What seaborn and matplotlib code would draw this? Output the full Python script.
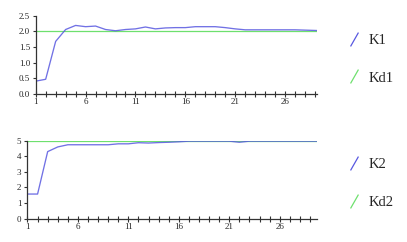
import numpy as np
import pandas as pd
import matplotlib
matplotlib.use("Agg")
import matplotlib.pyplot as plt
import seaborn as sns
from matplotlib.lines import Line2D

steps = list(range(1, 31))
k1 = [0.41, 0.47, 1.68, 2.06, 2.19, 2.15, 2.17, 2.06, 2.02, 2.06, 2.08, 2.14, 2.08, 2.11, 2.12,
      2.12, 2.15, 2.15, 2.15, 2.12, 2.08, 2.05, 2.05, 2.05, 2.05, 2.05, 2.05, 2.04, 2.03, 2.02]
kd1 = [2.0] * len(steps)
k2 = [1.58, 1.58, 4.3, 4.6, 4.74, 4.74, 4.74, 4.74, 4.74, 4.8, 4.8, 4.87, 4.85, 4.88, 4.9,
      4.93, 4.97, 4.97, 4.97, 4.97, 4.97, 4.9, 4.97, 4.97, 4.97, 4.97, 4.97, 4.97, 4.97, 4.97]
kd2 = [5.0] * len(steps)
x_labels = [1, 6, 11, 16, 21, 26]

sns.set_theme(style="white")
plt.rcParams['font.family'] = ['Liberation Serif', 'DejaVu Serif']

BLUE = '#5858e0'
GREEN = '#6ee06e'

fig = plt.figure(figsize=(4.07, 2.42), dpi=100)
ax1 = fig.add_axes([0.0877, 0.6116, 0.779 - 0.0877, 0.935 - 0.6116])
ax2 = fig.add_axes([0.0663, 0.0963, 0.779 - 0.0663, 0.4186 - 0.0963])

df1 = pd.DataFrame({'x': steps, 'K1': k1, 'Kd1': kd1})
df2 = pd.DataFrame({'x': steps, 'K2': k2, 'Kd2': kd2})

sns.lineplot(data=df1, x='x', y='Kd1', ax=ax1, color=GREEN, lw=0.9)
sns.lineplot(data=df1, x='x', y='K1', ax=ax1, color=BLUE, lw=0.95, alpha=0.85)
sns.lineplot(data=df2, x='x', y='Kd2', ax=ax2, color=GREEN, lw=0.9)
sns.lineplot(data=df2, x='x', y='K2', ax=ax2, color=BLUE, lw=0.95, alpha=0.85)

ax1.set_ylim(0, 2.5)
ax1.set_yticks(np.arange(0, 2.51, 0.5))
ax1.set_yticklabels([f"{v:.1f}" for v in np.arange(0, 2.51, 0.5)])
ax1.set_xlim(1, 29.2)
ax2.set_ylim(0, 5)
ax2.set_yticks(range(0, 6))
ax2.set_xlim(0.95, 29.7)

for ax in (ax1, ax2):
    ax.set_xlabel('')
    ax.set_ylabel('')
    ax.set_xticks(x_labels)
    ax.set_xticks([s for s in steps if s <= 29], minor=True)
    for s in ('top', 'right'):
        ax.spines[s].set_visible(False)
    for s in ('left', 'bottom'):
        ax.spines[s].set_color('#333333')
        ax.spines[s].set_linewidth(0.9)
    ax.tick_params(axis='x', which='both', direction='inout', length=4, width=0.8,
                   color='#333333', labelsize=6.5, pad=1, bottom=True)
    ax.tick_params(axis='y', which='both', direction='out', length=2.5, width=0.8,
                   color='#333333', labelsize=6.5, pad=1.5, left=True)
    ax.patch.set_alpha(0)

slash = [(-0.57, -1), (0.57, 1)]
for ax, names in ((ax1, ('K1', 'Kd1')), (ax2, ('K2', 'Kd2'))):
    handles = [Line2D([], [], color=BLUE, marker=slash, linestyle='none', markersize=10,
                      markeredgewidth=0.9),
               Line2D([], [], color=GREEN, marker=slash, linestyle='none', markersize=10,
                      markeredgewidth=0.9)]
    ax.legend(handles, names, loc='center left',
              bbox_to_anchor=(0.855, 0.755 if ax is ax1 else 0.242),
              bbox_transform=fig.transFigure, frameon=False, fontsize=10.5,
              handlelength=0.8, handletextpad=0.6, labelspacing=1.65,
              borderpad=0, borderaxespad=0)

fig.savefig('out.png', dpi=100)
